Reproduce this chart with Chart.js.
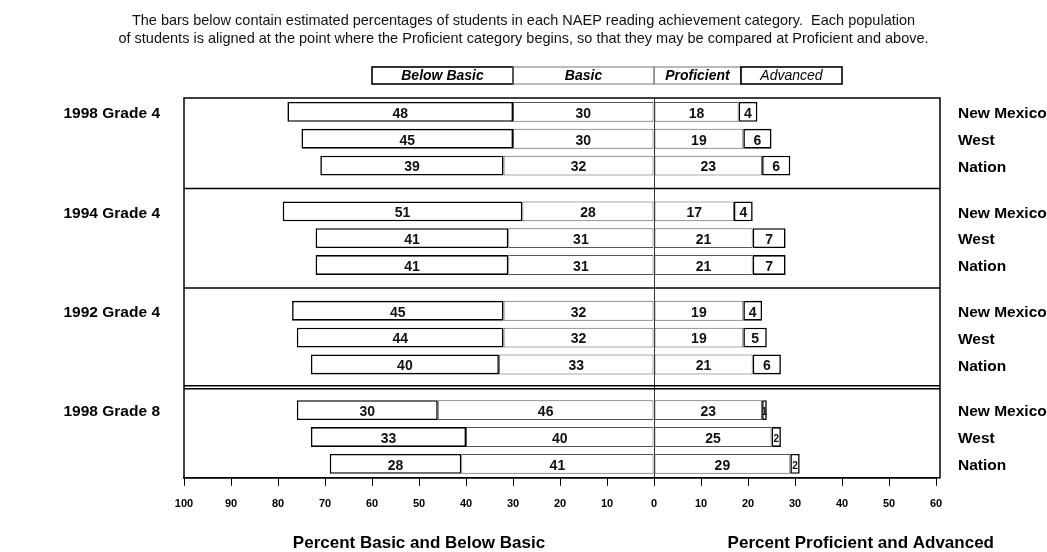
<!DOCTYPE html>
<html>
<head>
<meta charset="utf-8">
<script src="https://cdn.jsdelivr.net/npm/chart.js@4.4.1/dist/chart.umd.min.js"></script>
<style>
  html, body { margin: 0; padding: 0; background: #fff; }
  #wrap { width: 1047px; height: 552px; position: relative; }
</style>
</head>
<body>
<div id="wrap"><canvas id="naepChart"></canvas></div>
<script>
// Groups (top to bottom) and jurisdictions inside each group
const groups = ['1998 Grade 4', '1994 Grade 4', '1992 Grade 4', '1998 Grade 8'];
const places = ['New Mexico', 'West', 'Nation'];

// Percent of students per achievement level, one array per jurisdiction (by group)
const belowBasic = {
    'New Mexico': [48, 51, 45, 30],
    'West':       [45, 41, 44, 33],
    'Nation':     [39, 41, 40, 28]
};
const basic = {
    'New Mexico': [30, 28, 32, 46],
    'West':       [30, 31, 32, 40],
    'Nation':     [32, 31, 33, 41]
};
const proficient = {
    'New Mexico': [18, 17, 19, 23],
    'West':       [19, 21, 19, 25],
    'Nation':     [23, 21, 21, 29]
};
const advanced = {
    'New Mexico': [4, 4, 4, 1],
    'West':       [6, 7, 5, 2],
    'Nation':     [6, 7, 6, 2]
};

// Axis ticks
const xMin = -100;
const xMax = 60;
const xStep = 10;

const titleLines = [
    'The bars below contain estimated percentages of students in each NAEP reading achievement category.  Each population',
    'of students is aligned at the point where the Proficient category begins, so that they may be compared at Proficient and above.'
];

const FONT = '"Liberation Sans", Arial, Helvetica, sans-serif';

const legendItems = [
    { text: 'Below Basic', from: -60, to: -30, font: 'italic bold 14px ' + FONT, border: '#000', width: 1.6 },
    { text: 'Basic', from: -30, to: 0, font: 'italic bold 14px ' + FONT, border: '#777', width: 1 },
    { text: 'Proficient', from: 0, to: 18.5, font: 'italic bold 14px ' + FONT, border: '#777', width: 1 },
    { text: 'Advanced', from: 18.5, to: 40, font: 'italic 14px ' + FONT, border: '#000', width: 1.6 }
];

// Basic is listed before Below Basic so it stacks out from zero first
const levels = [
    { key: 'Basic', values: basic, sign: -1, border: '#555', width: 1 },
    { key: 'Below Basic', values: belowBasic, sign: -1, border: '#000', width: 1.6 },
    { key: 'Proficient', values: proficient, sign: 1, border: '#555', width: 1 },
    { key: 'Advanced', values: advanced, sign: 1, border: '#000', width: 1.6 }
];

const datasets = [];
places.forEach(place => {
    levels.forEach(lv => {
        datasets.push({
            label: place + ' ' + lv.key,
            stack: place,
            data: lv.values[place].map((v, i) => ({ x: lv.sign * v, y: i })),
            backgroundColor: '#fff',
            borderColor: lv.border,
            borderWidth: lv.width,
            borderSkipped: false,
            categoryPercentage: 0.81,
            barPercentage: 0.74
        });
    });
});

// Draws the frame, separators, legend, texts and values inside the bars
const decorPlugin = {
    id: 'naepDecor',
    afterDatasetsDraw(chart) {
        const ctx = chart.ctx;
        const area = chart.chartArea;
        const xs = chart.scales.x;
        const ys = chart.scales.y;
        ctx.save();

        // values inside each segment
        chart.data.datasets.forEach((ds, di) => {
            const meta = chart.getDatasetMeta(di);
            meta.data.forEach((bar, i) => {
                const v = Math.abs(ds.data[i].x);
                const cx = (bar.x + bar.base) / 2;
                ctx.fillStyle = '#111';
                ctx.textAlign = 'center';
                ctx.textBaseline = 'middle';
                ctx.font = (v < 3 ? 'bold 10px ' : 'bold 14px ') + FONT;
                ctx.fillText(String(v), cx, bar.y + 2);
            });
        });

        // frame
        ctx.strokeStyle = '#000';
        ctx.lineWidth = 1.5;
        ctx.strokeRect(area.left, area.top, area.right - area.left + 4, area.bottom - area.top);

        // group separators, the last one doubled
        for (let i = 0; i < groups.length - 1; i++) {
            const y = ys.getPixelForValue(i + 0.5);
            const offsets = i === groups.length - 2 ? [-1.5, 1.5] : [0];
            offsets.forEach(o => {
                ctx.beginPath();
                ctx.moveTo(area.left, y + o);
                ctx.lineTo(area.right + 4, y + o);
                ctx.stroke();
            });
        }

        // group labels on the left, jurisdiction labels on the right
        ctx.fillStyle = '#000';
        ctx.textBaseline = 'middle';
        ctx.font = 'bold 15.5px ' + FONT;
        const firstMeta = chart.getDatasetMeta(0);
        groups.forEach((g, i) => {
            ctx.textAlign = 'right';
            ctx.fillText(g, area.left - 24, firstMeta.data[i].y + 2);
        });
        places.forEach((p, pi) => {
            const meta = chart.getDatasetMeta(pi * levels.length);
            meta.data.forEach(bar => {
                ctx.textAlign = 'left';
                ctx.fillText(p, area.right + 22, bar.y + 2);
            });
        });

        // legend boxes aligned with the axis
        const ly = area.top - 31;
        legendItems.forEach(item => {
            const x0 = xs.getPixelForValue(item.from);
            const x1 = xs.getPixelForValue(item.to);
            ctx.strokeStyle = item.border;
            ctx.lineWidth = item.width;
            ctx.strokeRect(x0, ly, x1 - x0, 17);
            ctx.font = item.font;
            ctx.textAlign = 'center';
            ctx.fillStyle = '#000';
            ctx.fillText(item.text, (x0 + x1) / 2, ly + 9);
        });

        // heading
        ctx.font = '14.5px ' + FONT;
        ctx.fillStyle = '#111';
        ctx.textAlign = 'center';
        titleLines.forEach((line, i) => {
            ctx.fillText(line, chart.width / 2, 21 + i * 18);
        });

        // axis titles
        ctx.font = 'bold 17px ' + FONT;
        ctx.fillStyle = '#000';
        ctx.fillText('Percent Basic and Below Basic', xs.getPixelForValue(-50), 543);
        ctx.fillText('Percent Proficient and Advanced', xs.getPixelForValue(44), 543);

        ctx.restore();
    }
};

document.addEventListener('DOMContentLoaded', function() {
    if (typeof Chart === 'undefined') {
        console.error('Chart.js not loaded');
        return;
    }

    new Chart(document.getElementById('naepChart'), {
        type: 'bar',
        data: { datasets: datasets },
        options: {
            indexAxis: 'y',
            responsive: true,
            maintainAspectRatio: false,
            animation: false,
            layout: {
                padding: { left: 184, right: 111, top: 98, bottom: 29 }
            },
            plugins: {
                legend: { display: false },
                title: { display: false },
                tooltip: { enabled: false }
            },
            scales: {
                x: {
                    type: 'linear',
                    min: xMin,
                    max: xMax,
                    stacked: true,
                    ticks: {
                        stepSize: xStep,
                        callback: v => Math.abs(v),
                        color: '#000',
                        padding: 12,
                        font: { family: FONT, size: 11, weight: 'bold' }
                    },
                    grid: {
                        color: c => (c.tick && c.tick.value === 0 ? '#333' : 'transparent'),
                        tickColor: '#000',
                        tickLength: 8,
                        lineWidth: 1
                    },
                    border: { display: true, color: '#000', width: 1.5 }
                },
                y: {
                    type: 'linear',
                    reverse: true,
                    offset: false,
                    min: -0.41,
                    max: groups.length - 1 + 0.41,
                    display: false,
                    ticks: { includeBounds: false },
                    afterBuildTicks: axis => {
                        axis.ticks = groups.map((g, i) => ({ value: i }));
                    }
                }
            }
        },
        plugins: [decorPlugin]
    });
});
</script>
</body>
</html>
